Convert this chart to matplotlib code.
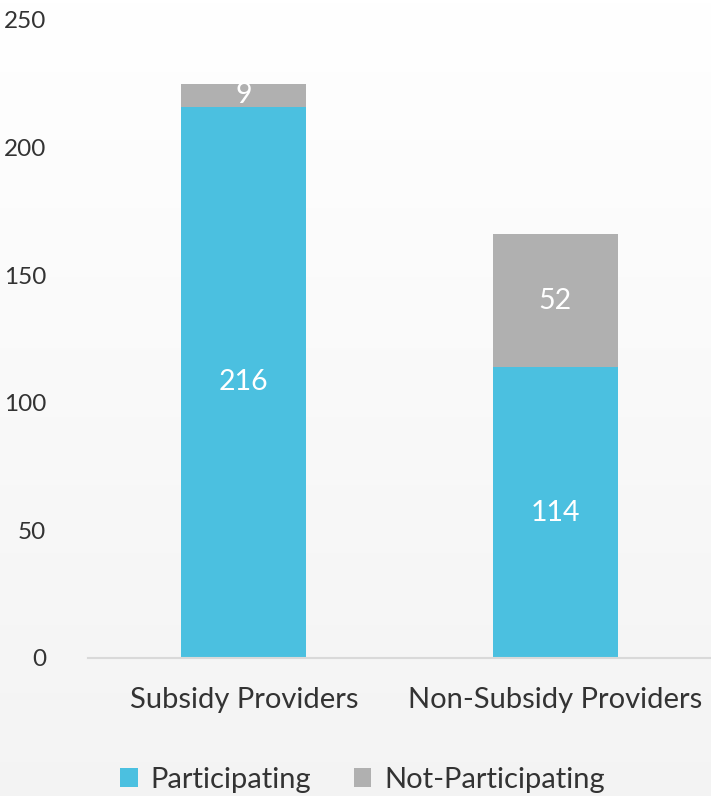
import numpy as np
import matplotlib.pyplot as plt

plt.rcParams['font.family'] = ['Lato', 'DejaVu Sans']

# Data
categories = ["Subsidy Providers", "Non-Subsidy Providers"]
participating = [216, 114]
not_participating = [9, 52]
y_ticks = [0, 50, 100, 150, 200, 250]

BLUE = '#4BC0E0'
GRAY = '#B0B0B0'
TEXT = '#333333'

fig = plt.figure(figsize=(7.11, 7.96), dpi=100)

# background gradient: white at top -> light gray at bottom
bg = fig.add_axes([0, 0, 1, 1], zorder=-10)
grad = np.linspace(1.0, 0.955, 256).reshape(-1, 1)
bg.imshow(np.dstack([grad, grad, grad]), aspect='auto', extent=[0, 1, 0, 1])
bg.axis('off')

ax = fig.add_axes([88 / 711, 1 - 658 / 796, (711 - 88) / 711, (658 - 20) / 796])
ax.patch.set_alpha(0)

x = np.arange(len(categories))
w = 0.40
b1 = ax.bar(x, participating, w, color=BLUE, label='Participating')
b2 = ax.bar(x, not_participating, w, bottom=participating, color=GRAY, label='Not-Participating')

for bars, vals, bottoms in [(b1, participating, [0, 0]), (b2, not_participating, participating)]:
    for rect, v, b in zip(bars, vals, bottoms):
        ax.text(rect.get_x() + rect.get_width() / 2, b + v / 2, str(v),
                ha='center', va='center', color='white', fontsize=20.5)

ax.set_xlim(-0.5, 1.5)
ax.set_ylim(0, 250)
ax.set_yticks(y_ticks)
ax.set_xticks(x)
ax.set_xticklabels(categories, fontsize=21)
ax.tick_params(axis='both', length=0, colors=TEXT)
ax.tick_params(axis='y', labelsize=17.5, pad=30)
ax.tick_params(axis='x', pad=21)

for s in ['top', 'right', 'left']:
    ax.spines[s].set_visible(False)
ax.spines['bottom'].set_color('#D9D9D9')
ax.spines['bottom'].set_linewidth(1.5)

fig.legend(handles=[b1, b2], loc='center', bbox_to_anchor=(0.51, 1 - 780 / 796),
           ncol=2, frameon=False, fontsize=21, handlelength=0.6, handleheight=0.6,
           handletextpad=0.45, columnspacing=1.45, labelcolor=TEXT)

fig.savefig('out.png', dpi=100)
